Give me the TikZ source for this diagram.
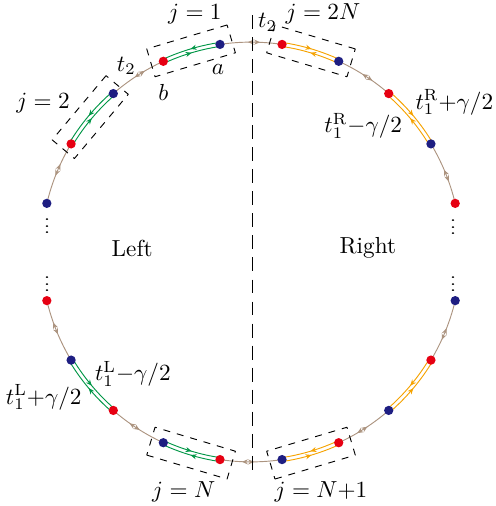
\documentclass[tikz,border=0pt]{standalone}
\usetikzlibrary{decorations.markings,arrows.meta}

\begin{document}
\begin{tikzpicture}[line join=round,
    midarrow/.style={postaction={decorate}, decoration={markings,
        mark=at position 0.5 with {\arrow{Stealth[length=2.6pt,width=2.2pt]}}}},
    twoarrow/.style={postaction={decorate}, decoration={markings,
        mark=at position 0.45 with {\arrow{Stealth[length=2.6pt,width=2.2pt,reversed]}},
        mark=at position 0.55 with {\arrow{Stealth[length=2.6pt,width=2.2pt]}}}},
    pairbox/.style={draw, dashed, thin, minimum width=1.27cm, minimum height=0.44cm, inner sep=0pt},
    lbl/.style={inner sep=1pt}]

    % --- Colors ---
    \definecolor{arcbrown}{RGB}{172,148,128}
    \definecolor{dotred}{RGB}{230,0,18}
    \definecolor{dotblue}{RGB}{30,30,130}
    \definecolor{leftgreen}{RGB}{0,150,70}
    \definecolor{rightorange}{RGB}{245,162,0}

    % --- Radii ---
    \def\R{3.18}
    \pgfmathsetmacro\Rout{\R+0.03}
    \pgfmathsetmacro\Rin{\R-0.03}

    \useasboundingbox (-3.803,-3.848) rectangle (3.697,3.818);

    % --- Sites on the ring ---
    \foreach \a [count=\i] in {98.5, 131, 166.6, 211, 245.3, 278.5, 311, 346.6, 31, 65.3} {
        \coordinate (b\i) at (\a:\R);
    }
    \foreach \a [count=\i] in {114.7, 149, 193.4, 229, 261.5, 294.7, 329, 13.4, 49, 81.5} {
        \coordinate (r\i) at (\a:\R);
    }

    % --- 1. Hopping t_2 between the pairs ---
    \foreach \s/\e in {81.5/98.5, 114.7/131, 149/166.6, 193.4/211, 229/245.3,
        261.5/278.5, 294.7/311, 329/346.6, 13.4/31, 49/65.3} {
        \draw[arcbrown, thin, twoarrow] (\s:\R) arc[start angle=\s, end angle=\e, radius=\R];
    }

    % --- 2. Double lines inside the pairs ---
    \foreach \s/\e/\c in {98.5/114.7/leftgreen, 131/149/leftgreen,
        261.5/245.3/leftgreen, 229/211/leftgreen,
        81.5/65.3/rightorange, 49/31/rightorange,
        278.5/294.7/rightorange, 311/329/rightorange} {
        \draw[\c, thin, midarrow] (\s:\Rout) arc[start angle=\s, end angle=\e, radius=\Rout];
        \draw[\c, thin, midarrow] (\e:\Rin) arc[start angle=\e, end angle=\s, radius=\Rin];
    }

    % --- 3. Boxes round the pairs ---
    \foreach \m/\n in {106.6/one, 140/two, 73.4/twoN, 253.4/N, 286.6/Nplus} {
        \node[pairbox, rotate=\m-90] (box\n) at (\m:\R) {};
    }

    % --- 4. Cut between left and right ---
    \coordinate (cutTop) at (0.02, 3.59);
    \coordinate (cutBot) at (0.02, -3.42);
    \draw[semithick, dash pattern=on 6pt off 3.5pt] (cutTop) -- (cutBot);

    % --- 5. Dots ---
    \foreach \i in {1,...,10} {
        \fill[dotblue] (b\i) circle (2pt);
        \fill[dotred] (r\i) circle (2pt);
    }

    % --- 6. Labels ---
    \node[lbl] (lOne) at (-0.85, 3.61) {$j=1$};
    \node[lbl] (lTwoN) at (1.09, 3.61) {$j=2N$};
    \node[lbl] (lTwo) at (-3.15, 2.26) {$j=2$};
    \node[lbl] (lN) at (-1.02, -3.64) {$j=N$};
    \node[lbl] (lNplus) at (1.06, -3.64) {$j=N{+}1$};
    \node[lbl] (tTop) at (0.25, 3.48) {$t_2$};
    \node[lbl] (tLeft) at (-1.89, 2.82) {$t_2$};
    \node[lbl] (la) at (-0.50, 2.76) {$a$};
    \node[lbl] (lb) at (-1.33, 2.42) {$b$};
    \node[lbl] (tRplus) at (3.08, 2.27) {$t_1^{\mathrm{R}}{+}\gamma/2$};
    \node[lbl] (tRminus) at (1.70, 1.91) {$t_1^{\mathrm{R}}{-}\gamma/2$};
    \node[lbl] (tLminus) at (-1.79, -1.85) {$t_1^{\mathrm{L}}{-}\gamma/2$};
    \node[lbl] (tLplus) at (-3.14, -2.20) {$t_1^{\mathrm{L}}{+}\gamma/2$};
    \node[lbl] (lLeft) at (-1.80, 0.06) {Left};
    \node[lbl] (lRight) at (1.77, 0.06) {Right};

    % vertical dots
    \foreach \x/\y [count=\i] in {-3.09/0.46, -3.09/-0.42, 3.06/0.45, 3.06/-0.42} {
        \node[lbl] (vd\i) at (\x, \y) {\scalebox{1}[0.7]{$\vdots$}};
    }

\end{tikzpicture}
\end{document}
